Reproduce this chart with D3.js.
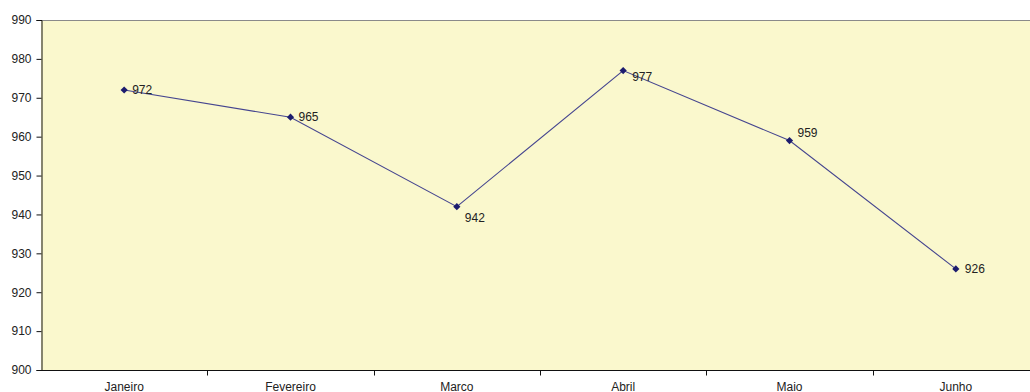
<!DOCTYPE html>
<html>
<head>
<meta charset="utf-8">
<script src="https://cdn.jsdelivr.net/npm/d3@7"></script>
<style>
  html, body { margin: 0; padding: 0; background: #fff; }
  svg { display: block; }
  text { font-family: "Liberation Sans", Arial, sans-serif; fill: #222; }
</style>
</head>
<body>
<svg id="chart" width="1030" height="392"></svg>
<script>
// Monthly values
const months = ["Janeiro", "Fevereiro", "Marco", "Abril", "Maio", "Junho"];
const values = [972, 965, 942, 977, 959, 926];
const yTicks = [900, 910, 920, 930, 940, 950, 960, 970, 980, 990];

// Data label placement (dx, dy relative to marker)
const labelPlacement = [
  [8, 4], [8, 4], [8, 15], [9, 10], [8, -4], [9, 4]
];

const svg = d3.select("#chart");
const plotLeft = 41, plotTop = 20, plotBottom = 370, plotRight = 1039;

const x = d3.scaleBand().domain(months).range([plotLeft, plotRight]);
const y = d3.scaleLinear().domain([900, 990]).range([plotBottom, plotTop]);

// plot area
svg.append("rect")
  .attr("x", plotLeft).attr("y", plotTop)
  .attr("width", plotRight - plotLeft).attr("height", plotBottom - plotTop)
  .attr("fill", "#faf8cd");

// top border
svg.append("line")
  .attr("x1", plotLeft).attr("x2", plotRight)
  .attr("y1", plotTop + 0.5).attr("y2", plotTop + 0.5)
  .attr("stroke", "#8a8a8a").attr("stroke-width", 1);

// y axis
const yAxis = svg.append("g")
  .attr("transform", `translate(${plotLeft + 0.5},0)`)
  .call(d3.axisLeft(y).tickValues(yTicks).tickSize(5).tickPadding(5).tickFormat(d3.format("d")));
yAxis.select(".domain").attr("stroke", "#111");
yAxis.selectAll(".tick line").attr("stroke", "#111");
yAxis.selectAll("text").attr("font-size", 12).attr("fill", "#333")
  .attr("font-family", "Liberation Sans, Arial, sans-serif");

// x axis with ticks between categories
const xAxis = svg.append("g")
  .attr("transform", `translate(0,${plotBottom + 0.5})`);
xAxis.append("line")
  .attr("x1", plotLeft).attr("x2", plotRight)
  .attr("stroke", "#111");
xAxis.selectAll(".sep")
  .data(months.slice(1))
  .join("line")
  .attr("class", "sep")
  .attr("x1", d => Math.round(x(d)) + 0.5).attr("x2", d => Math.round(x(d)) + 0.5)
  .attr("y1", 0).attr("y2", 5)
  .attr("stroke", "#111");
xAxis.selectAll(".lbl")
  .data(months)
  .join("text")
  .attr("class", "lbl")
  .attr("x", d => x(d) + x.bandwidth() / 2)
  .attr("y", 20)
  .attr("text-anchor", "middle")
  .attr("font-size", 12)
  .attr("fill", "#333")
  .text(d => d);

const pts = months.map((m, i) => ({ m, v: values[i], i }));
const cx = d => x(d.m) + x.bandwidth() / 2;

// line
svg.append("path")
  .datum(pts)
  .attr("fill", "none")
  .attr("stroke", "#45458f")
  .attr("stroke-width", 1.1)
  .attr("d", d3.line().x(cx).y(d => y(d.v)));

// diamond markers
svg.selectAll(".mk")
  .data(pts)
  .join("path")
  .attr("class", "mk")
  .attr("transform", d => `translate(${cx(d)},${y(d.v)})`)
  .attr("d", "M0,-3.6L3.6,0L0,3.6L-3.6,0Z")
  .attr("fill", "#1c1c6e");

// data labels
svg.selectAll(".dl")
  .data(pts)
  .join("text")
  .attr("class", "dl")
  .attr("x", d => cx(d) + labelPlacement[d.i][0])
  .attr("y", d => y(d.v) + labelPlacement[d.i][1])
  .attr("font-size", 12)
  .attr("fill", "#222")
  .text(d => d.v);
</script>
</body>
</html>
